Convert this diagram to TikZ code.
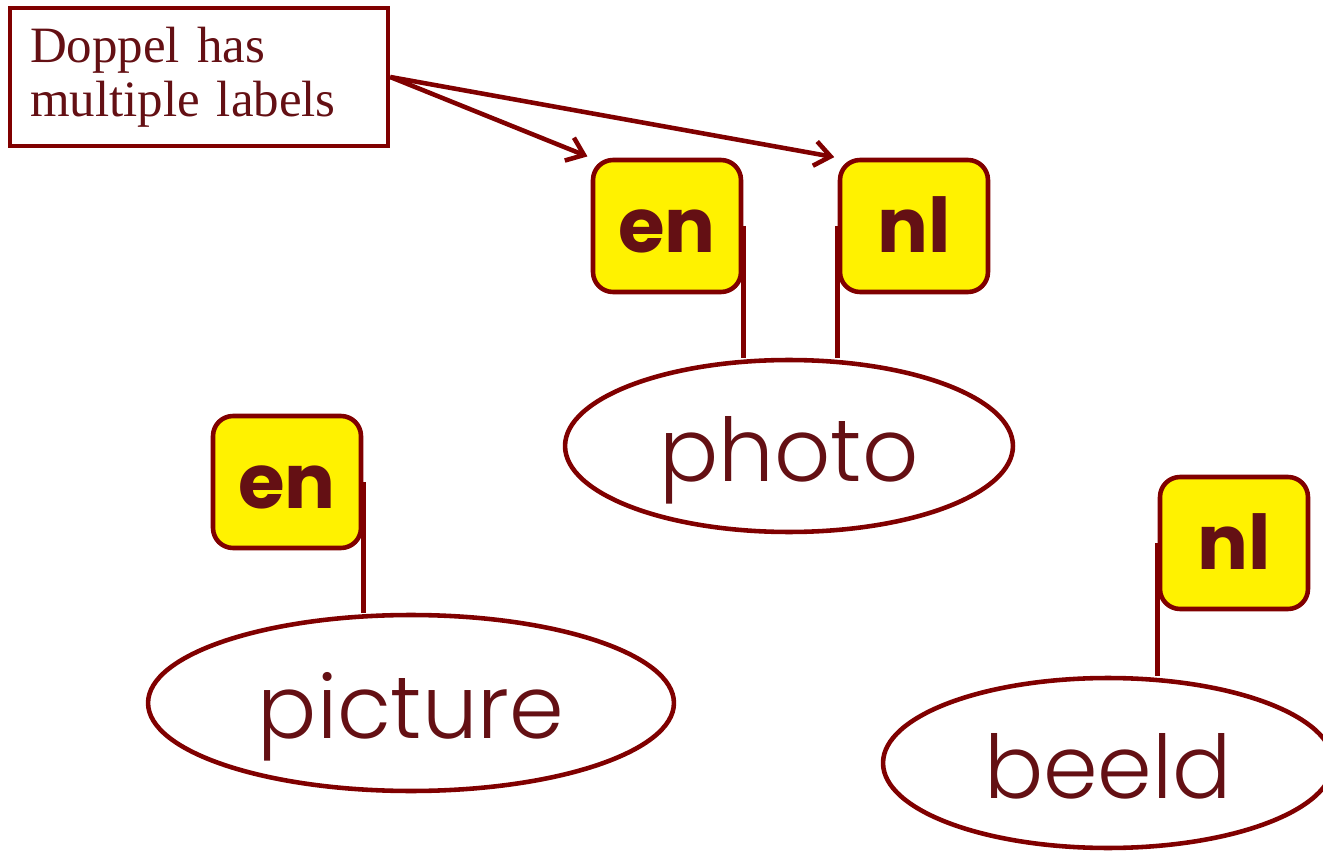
\documentclass[tikz,border=0pt]{standalone}
\usepackage{fontspec}
\setmainfont{Liberation Serif}
\setsansfont{Poppins}
\newfontfamily\thinfont{Poppins Light}
\usetikzlibrary{arrows.meta,shapes.geometric}
\definecolor{maroon}{RGB}{128,0,0}
\definecolor{inkred}{RGB}{100,16,20}

\begin{document}
\begin{tikzpicture}[x=0.02cm,y=-0.02cm,line width=2.6pt,draw=maroon,
        tag/.style={draw=maroon,fill=yellow,rounded corners=0.4cm,
          minimum width=2.96cm,minimum height=2.64cm,inner sep=0pt,
          text height=30pt,text depth=0pt,
          text=inkred,font=\sffamily\bfseries\fontsize{43}{50}\selectfont},
        word/.style={draw=maroon,ellipse,inner sep=0pt,text=inkred,
          text height=40pt,text depth=0pt,
          font=\thinfont\fontsize{50}{60}\selectfont},
        note/.style={draw=maroon,rectangle,minimum width=7.56cm,
          minimum height=2.76cm,inner xsep=0.4cm,text width=6.76cm,
          align=left,text=inkred,font=\fontsize{29}{31}\selectfont},
        pointer/.style={-{Straight Barb[length=9pt,width=14pt]},shorten >=2pt}]
        \useasboundingbox (0,0) rectangle (1323,851);
        % Words
        \node[word,minimum width=8.96cm,minimum height=3.44cm] (photo) at (789,446) {photo};
        \node[word,minimum width=10.52cm,minimum height=3.52cm] (picture) at (411,703) {picture};
        \node[word,minimum width=9.0cm,minimum height=3.4cm] (beeld) at (1108,763) {beeld};
        % Language tags
        \node[tag] (en1) at (667,226) {en};
        \node[tag] (nl1) at (914,226) {nl};
        \node[tag] (en2) at (287,482) {en};
        \node[tag] (nl2) at (1234,543) {nl};
        % Sticks down to the words
        \draw (en1.east) -- (en1.east |- photo.north);
        \draw (nl1.west) -- (nl1.west |- photo.north);
        \draw (en2.east) -- (en2.east |- picture.north);
        \draw (nl2.west) -- (nl2.west |- beeld.north);
        % Note with arrows
        \node[note] (doppel) at (199,77) {Doppel has\\multiple labels};
        \draw[pointer] (doppel.east) -- (en1.north west);
        \draw[pointer] (doppel.east) -- (nl1.north west);
\end{tikzpicture}
\end{document}
